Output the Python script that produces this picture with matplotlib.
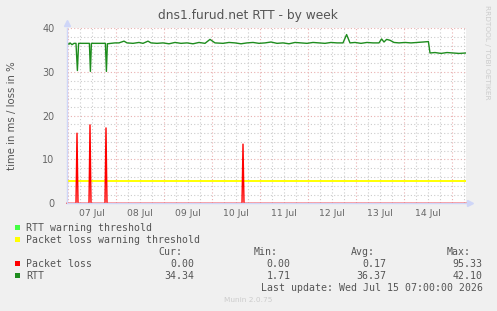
"""Munin style 'RTT - by week' graph for dns1.furud.net, redrawn with matplotlib."""

from datetime import datetime, timedelta

import matplotlib
matplotlib.use("Agg")
import matplotlib.pyplot as plt
import matplotlib.dates as mdates
from matplotlib.patches import Rectangle

# ---- data (hours after the graph start) ----
start = datetime(2026, 7, 6, 23, 30)
end = datetime(2026, 7, 15, 7, 0)

rtt_hours = [0, 1, 1.5, 2.5, 3.5, 4.5, 5.2, 5.8, 8, 11.2, 11.7, 12.2, 15, 17,
             19.2, 19.7, 20.2, 22, 24, 26, 28.5, 30, 33, 36, 38, 40.5, 42, 45,
             48, 51, 54, 57, 60, 63, 66, 69, 71.5, 74, 78, 81, 84, 87, 90, 93,
             96, 99, 102, 105, 108, 111, 114, 117, 120, 123, 126, 129, 132, 135,
             138, 139.8, 141.5, 144, 147, 150, 153, 156, 157.3, 158.5, 159.8,
             161.5, 163.5, 166, 169, 172, 175, 178, 180.7, 181.5, 184, 187, 190,
             193, 196, 199.5]
rtt_vals = [36.5, 36.3, 36.6, 36.2, 36.5, 36.5, 30.3, 36.5, 36.5, 36.5, 30.1,
            36.5, 36.5, 36.5, 36.5, 30.1, 36.4, 36.5, 36.6, 36.6, 37.0, 36.6,
            36.5, 36.7, 36.5, 37.0, 36.6, 36.5, 36.6, 36.4, 36.7, 36.5, 36.6,
            36.4, 36.7, 36.5, 37.4, 36.6, 36.5, 36.7, 36.6, 36.4, 36.6, 36.7,
            36.5, 36.6, 36.8, 36.5, 36.6, 36.4, 36.7, 36.6, 36.5, 36.7, 36.6,
            36.5, 36.7, 36.6, 36.6, 38.5, 36.6, 36.7, 36.5, 36.7, 36.6, 36.6,
            37.5, 36.8, 37.4, 37.2, 36.7, 36.6, 36.7, 36.6, 36.7, 36.8, 36.9,
            34.3, 34.4, 34.2, 34.4, 34.3, 34.2, 34.3]

loss_hours = [0, 4.5, 5.0, 5.5, 11.0, 11.5, 12.0, 19.0, 19.5, 20.0,
              87.5, 88.0, 88.5, 199.5]
loss_vals = [0, 0, 16.0, 0, 0, 17.9, 0, 0, 17.2, 0, 0, 13.5, 0, 0]

loss_warning = 5.0

day_labels = ["07 Jul", "08 Jul", "09 Jul", "10 Jul", "11 Jul", "12 Jul", "13 Jul", "14 Jul"]

legend_names = ["RTT warning threshold", "Packet loss warning threshold", "Packet loss", "RTT"]
legend_colors = ["#44ff44", "#ffff00", "#ff0000", "#1e8c1e"]
stat_cur = ["0.00", "34.34"]
stat_min = ["0.00", "1.71"]
stat_avg = ["0.17", "36.37"]
stat_max = ["95.33", "42.10"]

W, H = 497, 311
BG = "#f0f0f0"
FONT = "#666666"
AXIS = "#cfd6f8"


def fx(px):
    return px / W


def fy(py):
    return 1 - py / H


def hours_to_dates(hours):
    return [start + timedelta(hours=h) for h in hours]


fig = plt.figure(figsize=(W / 100, H / 100), dpi=100, facecolor=BG)
ax = fig.add_axes([fx(67), fy(203.3), fx(466) - fx(67), fy(28) - fy(203.3)])
ax.set_facecolor("white")

ax.set_xlim(start, end)
ax.set_ylim(0, 40)

# grid: minor every 6h / 2 units, major on midnights / 10 units
ax.xaxis.set_major_locator(mdates.DayLocator())
ax.xaxis.set_minor_locator(mdates.HourLocator(byhour=[6, 12, 18]))
ax.yaxis.set_major_locator(plt.MultipleLocator(10))
ax.yaxis.set_minor_locator(plt.MultipleLocator(2))
ax.grid(which="minor", color="#cccccc", linestyle=(0, (1, 2)), linewidth=0.8)
ax.grid(which="major", color="#e9b0b0", linestyle=(0, (1, 2)), linewidth=0.8)
ax.set_axisbelow(True)
ax.tick_params(which="both", length=0)
ax.set_xticklabels([])
ax.tick_params(axis="y", labelsize=6.9, labelcolor=FONT, pad=9)

# day labels centred at noon
for i, lab in enumerate(day_labels):
    noon = datetime(2026, 7, 7 + i, 12, 0)
    ax.text(noon, -1.2, lab, ha="center", va="top", fontsize=6.7, color=FONT, clip_on=False)

for side in ("top", "right"):
    ax.spines[side].set_visible(False)
for side in ("left", "bottom"):
    ax.spines[side].set_color(AXIS)
    ax.spines[side].set_linewidth(1)

# axis arrows
ax.plot([0], [1.03], marker="^", color=AXIS, markersize=4, transform=ax.transAxes, clip_on=False)
ax.plot([1.01], [0], marker=">", color=AXIS, markersize=4, transform=ax.transAxes, clip_on=False)

# series
ax.axhline(loss_warning, color="#ffff00", linewidth=1.4)
ax.plot(hours_to_dates(loss_hours), loss_vals, color="#ff0000", linewidth=1, clip_on=False)
ax.plot(hours_to_dates(rtt_hours), rtt_vals, color="#1e8c1e", linewidth=1)

# titles
fig.text(fx(248), fy(16), "dns1.furud.net RTT - by week", ha="center", va="center",
         fontsize=8.8, color="#555555")
fig.text(fx(12), fy(116), "time in ms / loss in %", ha="center", va="center",
         rotation=90, fontsize=7.3, color="#555555")
fig.text(fx(487), fy(5), "RRDTOOL / TOBI OETIKER", ha="center", va="top",
         rotation=270, fontsize=5.3, color="#cccccc")
fig.text(fx(248), fy(300), "Munin 2.0.75", ha="center", va="center",
         fontsize=5.3, color="#cccccc")

# legend
mono = dict(family="DejaVu Sans Mono", fontsize=7.1, color="#555555", va="center")
rows_y = [227.7, 239.7, 263.7, 275.7]
for name, col, y in zip(legend_names, legend_colors, rows_y):
    fig.patches.append(Rectangle((fx(14.5), fy(y + 2.5)), 5 / W, 5 / H, transform=fig.transFigure,
                                 facecolor=col, edgecolor="none"))
    fig.text(fx(26), fy(y), name, ha="left", **mono)

header_y = 251.7
for lab, xr in zip(["Cur:", "Min:", "Avg:", "Max:"], [182, 278, 374.5, 470.5]):
    fig.text(fx(xr), fy(header_y), lab, ha="right", **mono)
for col_vals, xr in zip([stat_cur, stat_min, stat_avg, stat_max], [194, 290.7, 386.7, 482.7]):
    for v, y in zip(col_vals, rows_y[2:]):
        fig.text(fx(xr), fy(y), v, ha="right", **mono)
fig.text(fx(482.7), fy(287.7), "Last update: Wed Jul 15 07:00:00 2026", ha="right", **mono)

fig.savefig("out.png", dpi=100, facecolor=BG)
